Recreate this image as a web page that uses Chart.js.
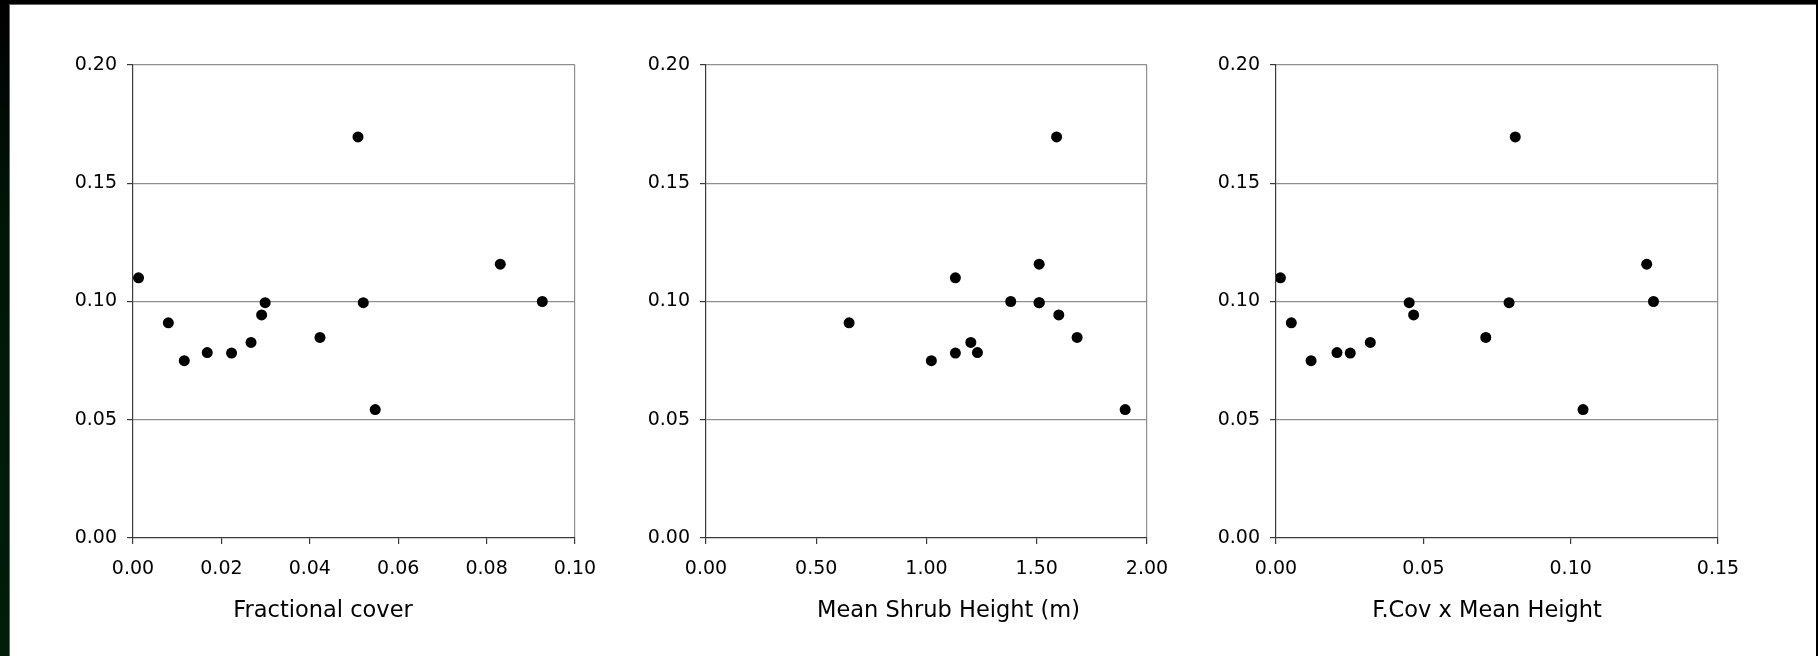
<!DOCTYPE html>
<html>
<head>
<meta charset="utf-8">
<title>Shrub cover scatter</title>
<script src="https://cdn.jsdelivr.net/npm/chart.js@4.4.0/dist/chart.umd.min.js"></script>
<style>
  html, body { margin: 0; padding: 0; }
  body { width: 1818px; height: 656px; background: #000; position: relative; overflow: hidden; }
  #edge { position: absolute; left: 0; top: 0; width: 9px; height: 656px;
          background: linear-gradient(#000 0%, #001608 35%, #001e0a 100%); }
  #sheet { position: absolute; left: 9px; top: 4px; width: 1807px; height: 652px; background: #fff;
           border-left: 1px solid #666; border-top: 1px solid #666; box-sizing: border-box; }
  .panel { position: absolute; top: 0; height: 656px; }
</style>
</head>
<body>
<div id="edge"></div>
<div id="sheet"></div>
<div class="panel" id="p0"><canvas id="c0"></canvas></div>
<div class="panel" id="p1"><canvas id="c1"></canvas></div>
<div class="panel" id="p2"><canvas id="c2"></canvas></div>
<script>
// response value shared by all three plots (one per site)
const yValues = [0.110, 0.091, 0.075, 0.0784, 0.0782, 0.0827, 0.0943, 0.0995, 0.0848, 0.1696, 0.0995, 0.0543, 0.1158, 0.1000];
// predictors
const fracCover = [0.00125, 0.0080, 0.0116, 0.0168, 0.0223, 0.0267, 0.0291, 0.0299, 0.0423, 0.0509, 0.0521, 0.0548, 0.0831, 0.0926];
const shrubHeight = [1.131, 0.649, 1.022, 1.231, 1.131, 1.201, 1.600, 1.511, 1.683, 1.590, 1.511, 1.901, 1.511, 1.382];
const coverHeight = [0.0015, 0.0052, 0.0119, 0.0207, 0.0252, 0.0320, 0.0467, 0.0452, 0.0712, 0.0812, 0.0791, 0.1042, 0.1258, 0.1281];

const xTitles = ['Fractional cover', 'Mean Shrub Height (m)', 'F.Cov x Mean Height'];
const xMaxes = [0.10, 2.00, 0.15];
const xSteps = [0.02, 0.50, 0.05];
const yMax = 0.20;
const yStep = 0.05;

const FONT = 'DejaVu Sans';
const GRID = '#8e8e8e';
const AXIS = '#3a3a3a';

// plot-area placement on the page
const plotLeft = [133, 706, 1276];
const plotWidth = [442, 441, 442];
const titleShift = [-31, 22, -10];
const TITLE_Y = 611;
const Y_AXIS_W = 100;
const RIGHT_PAD = 40;

// axis title drawn under the plot, nudged sideways per panel
const axisTitle = {
  id: 'axisTitle',
  afterDraw(chart, args, opts) {
    const { ctx, chartArea } = chart;
    ctx.save();
    ctx.font = '22.5px "' + FONT + '"';
    ctx.fillStyle = '#000';
    ctx.textAlign = 'center';
    ctx.textBaseline = 'middle';
    ctx.fillText(opts.text, (chartArea.left + chartArea.right) / 2 + opts.shift, TITLE_Y);
    ctx.restore();
  }
};

function makeChart(i, xs) {
  const box = document.getElementById('p' + i);
  box.style.left = (plotLeft[i] - Y_AXIS_W) + 'px';
  box.style.width = (plotWidth[i] + Y_AXIS_W + RIGHT_PAD) + 'px';
  const xMax = xMaxes[i];

  new Chart(document.getElementById('c' + i), {
    type: 'scatter',
    data: {
      datasets: [{
        data: xs.map((x, k) => ({ x: x, y: yValues[k] })),
        backgroundColor: '#000',
        borderWidth: 0,
        pointRadius: 5.5,
        pointHoverRadius: 5.5
      }]
    },
    plugins: [axisTitle],
    options: {
      responsive: true,
      maintainAspectRatio: false,
      animation: false,
      layout: { padding: { top: 65, right: RIGHT_PAD, bottom: 0, left: 0 } },
      plugins: {
        legend: { display: false },
        tooltip: { enabled: false },
        axisTitle: { text: xTitles[i], shift: titleShift[i] }
      },
      scales: {
        x: {
          type: 'linear',
          min: 0,
          max: xMax,
          ticks: {
            stepSize: xSteps[i],
            callback: v => v.toFixed(2),
            color: '#000',
            font: { family: FONT, size: 19 },
            padding: 14,
            maxRotation: 0,
            autoSkip: false
          },
          grid: {
            color: c => (c.tick && Math.abs(c.tick.value - xMax) < 1e-9) ? GRID : 'rgba(0,0,0,0)',
            tickColor: AXIS,
            tickLength: 6,
            lineWidth: 1.2
          },
          border: { color: AXIS, width: 1.2 },
          afterFit: s => { s.height = 118; }
        },
        y: {
          type: 'linear',
          min: 0,
          max: yMax,
          ticks: {
            stepSize: yStep,
            callback: v => v.toFixed(2),
            color: '#000',
            font: { family: FONT, size: 19 },
            padding: 10
          },
          grid: {
            color: c => (c.tick && c.tick.value > 1e-9) ? GRID : 'rgba(0,0,0,0)',
            tickColor: AXIS,
            tickLength: 6,
            lineWidth: 1.2
          },
          border: { color: AXIS, width: 1.2 },
          afterFit: s => { s.width = Y_AXIS_W; }
        }
      }
    }
  });
}

makeChart(0, fracCover);
makeChart(1, shrubHeight);
makeChart(2, coverHeight);
</script>
</body>
</html>
